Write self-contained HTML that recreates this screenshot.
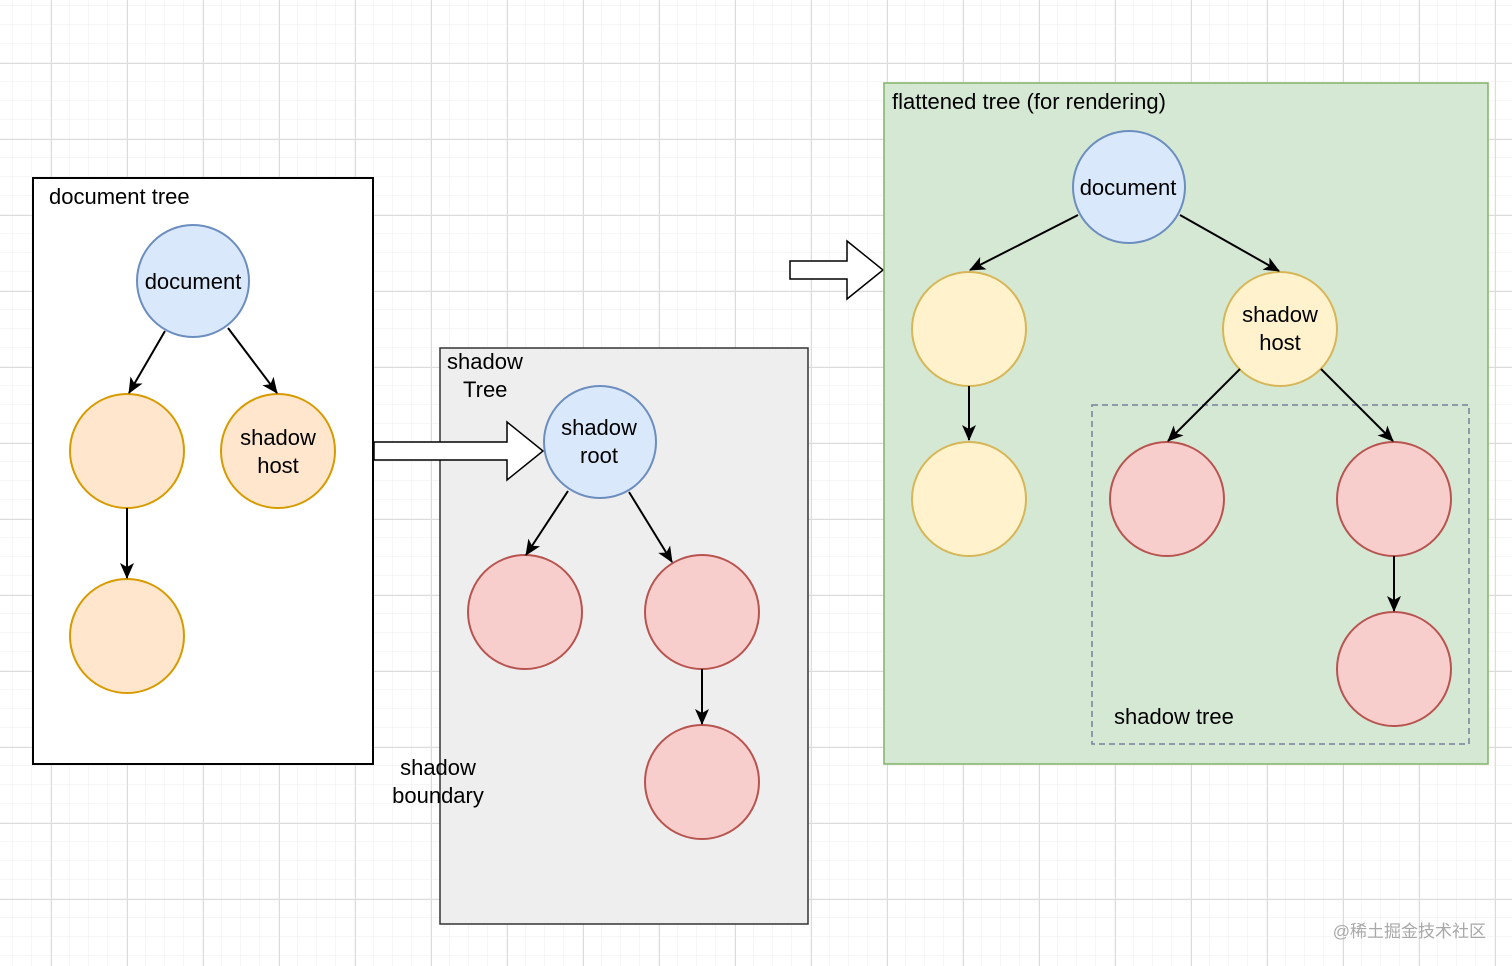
<!DOCTYPE html>
<html><head><meta charset="utf-8"><style>
html,body{margin:0;padding:0;background:#fff;}
svg{display:block;font-family:"Liberation Sans","Noto Sans CJK SC",sans-serif;}
</style></head><body>
<svg width="1512" height="966" viewBox="0 0 1512 966" xmlns="http://www.w3.org/2000/svg">
<defs>
<pattern id="minor" x="13" y="6" width="19" height="19" patternUnits="userSpaceOnUse">
<path d="M19 0V19M0 19H19" fill="none" stroke="#eeeeee" stroke-width="1"/>
</pattern>
<pattern id="major" x="51" y="63" width="76" height="76" patternUnits="userSpaceOnUse">
<path d="M0.5 0V76M0 0.5H76" fill="none" stroke="#dcdcdc" stroke-width="1"/>
</pattern>
<marker id="ah" markerWidth="18" markerHeight="16" refX="15" refY="8" orient="auto" markerUnits="userSpaceOnUse">
<path d="M0,1 L16,8 L0,15 L4,8 Z" fill="#000"/>
</marker>
</defs>
<rect width="1512" height="966" fill="url(#minor)"/>
<rect width="1512" height="966" fill="url(#major)"/>

<g font-size="22" fill="#000">
<rect x="33" y="178" width="340" height="586" fill="#fff" stroke="#000" stroke-width="2"/>
<text x="49" y="204">document tree</text>
<circle cx="193" cy="281" r="56" fill="#dae8fc" stroke="#6c8ebf" stroke-width="2"/>
<text x="193" y="289" text-anchor="middle">document</text>
<circle cx="127" cy="451" r="57" fill="#ffe6cc" stroke="#d79b00" stroke-width="2"/>
<circle cx="278" cy="451" r="57" fill="#ffe6cc" stroke="#d79b00" stroke-width="2"/>
<text x="278" y="445" text-anchor="middle">shadow</text>
<text x="278" y="473" text-anchor="middle">host</text>
<circle cx="127" cy="636" r="57" fill="#ffe6cc" stroke="#d79b00" stroke-width="2"/>
<g stroke="#000" stroke-width="2" marker-end="url(#ah)">
<line x1="165" y1="331" x2="129" y2="393"/>
<line x1="228" y1="328" x2="277" y2="393"/>
<line x1="127" y1="508" x2="127" y2="578"/>
</g>

<rect x="440" y="348" width="368" height="576" fill="#eeeeee" stroke="#333" stroke-width="1.5"/>
<text x="447" y="369">shadow</text>
<text x="463" y="397">Tree</text>
<path d="M374,442 H507 V422 L543,451 L507,480 V460 H374 Z" fill="#fff" stroke="#000" stroke-width="1.5"/>
<circle cx="600" cy="442" r="56" fill="#dae8fc" stroke="#6c8ebf" stroke-width="2"/>
<text x="599" y="435" text-anchor="middle">shadow</text>
<text x="599" y="463" text-anchor="middle">root</text>
<circle cx="525" cy="612" r="57" fill="#f8cecc" stroke="#b85450" stroke-width="2"/>
<circle cx="702" cy="612" r="57" fill="#f8cecc" stroke="#b85450" stroke-width="2"/>
<circle cx="702" cy="782" r="57" fill="#f8cecc" stroke="#b85450" stroke-width="2"/>
<g stroke="#000" stroke-width="2" marker-end="url(#ah)">
<line x1="568" y1="491" x2="526" y2="555"/>
<line x1="629" y1="492" x2="672" y2="562"/>
<line x1="702" y1="669" x2="702" y2="724"/>
</g>
<text x="438" y="775" text-anchor="middle">shadow</text>
<text x="438" y="803" text-anchor="middle">boundary</text>

<path d="M790,261 H847 V241 L883,270 L847,299 V279 H790 Z" fill="#fff" stroke="#000" stroke-width="1.5"/>

<rect x="884" y="83" width="604" height="681" fill="#d5e8d4" stroke="#82b366" stroke-width="1.5"/>
<text x="892" y="109">flattened tree (for rendering)</text>
<rect x="1092" y="405" width="377" height="339" fill="none" stroke="#7a7f99" stroke-width="1.5" stroke-dasharray="6,4"/>
<text x="1114" y="724">shadow tree</text>
<circle cx="1129" cy="187" r="56" fill="#dae8fc" stroke="#6c8ebf" stroke-width="2"/>
<text x="1128" y="195" text-anchor="middle">document</text>
<circle cx="969" cy="329" r="57" fill="#fff2cc" stroke="#d6b656" stroke-width="2"/>
<circle cx="969" cy="499" r="57" fill="#fff2cc" stroke="#d6b656" stroke-width="2"/>
<circle cx="1280" cy="329" r="57" fill="#fff2cc" stroke="#d6b656" stroke-width="2"/>
<text x="1280" y="322" text-anchor="middle">shadow</text>
<text x="1280" y="350" text-anchor="middle">host</text>
<circle cx="1167" cy="499" r="57" fill="#f8cecc" stroke="#b85450" stroke-width="2"/>
<circle cx="1394" cy="499" r="57" fill="#f8cecc" stroke="#b85450" stroke-width="2"/>
<circle cx="1394" cy="669" r="57" fill="#f8cecc" stroke="#b85450" stroke-width="2"/>
<g stroke="#000" stroke-width="2" marker-end="url(#ah)">
<line x1="1078" y1="215" x2="970" y2="270"/>
<line x1="1180" y1="215" x2="1279" y2="271"/>
<line x1="969" y1="386" x2="969" y2="440"/>
<line x1="1240" y1="369" x2="1168" y2="441"/>
<line x1="1321" y1="369" x2="1393" y2="441"/>
<line x1="1394" y1="556" x2="1394" y2="611"/>
</g>
</g>
<text x="1486" y="937" text-anchor="end" font-size="17" fill="#a8a8a8">@稀土掘金技术社区</text>
</svg>
</body></html>
